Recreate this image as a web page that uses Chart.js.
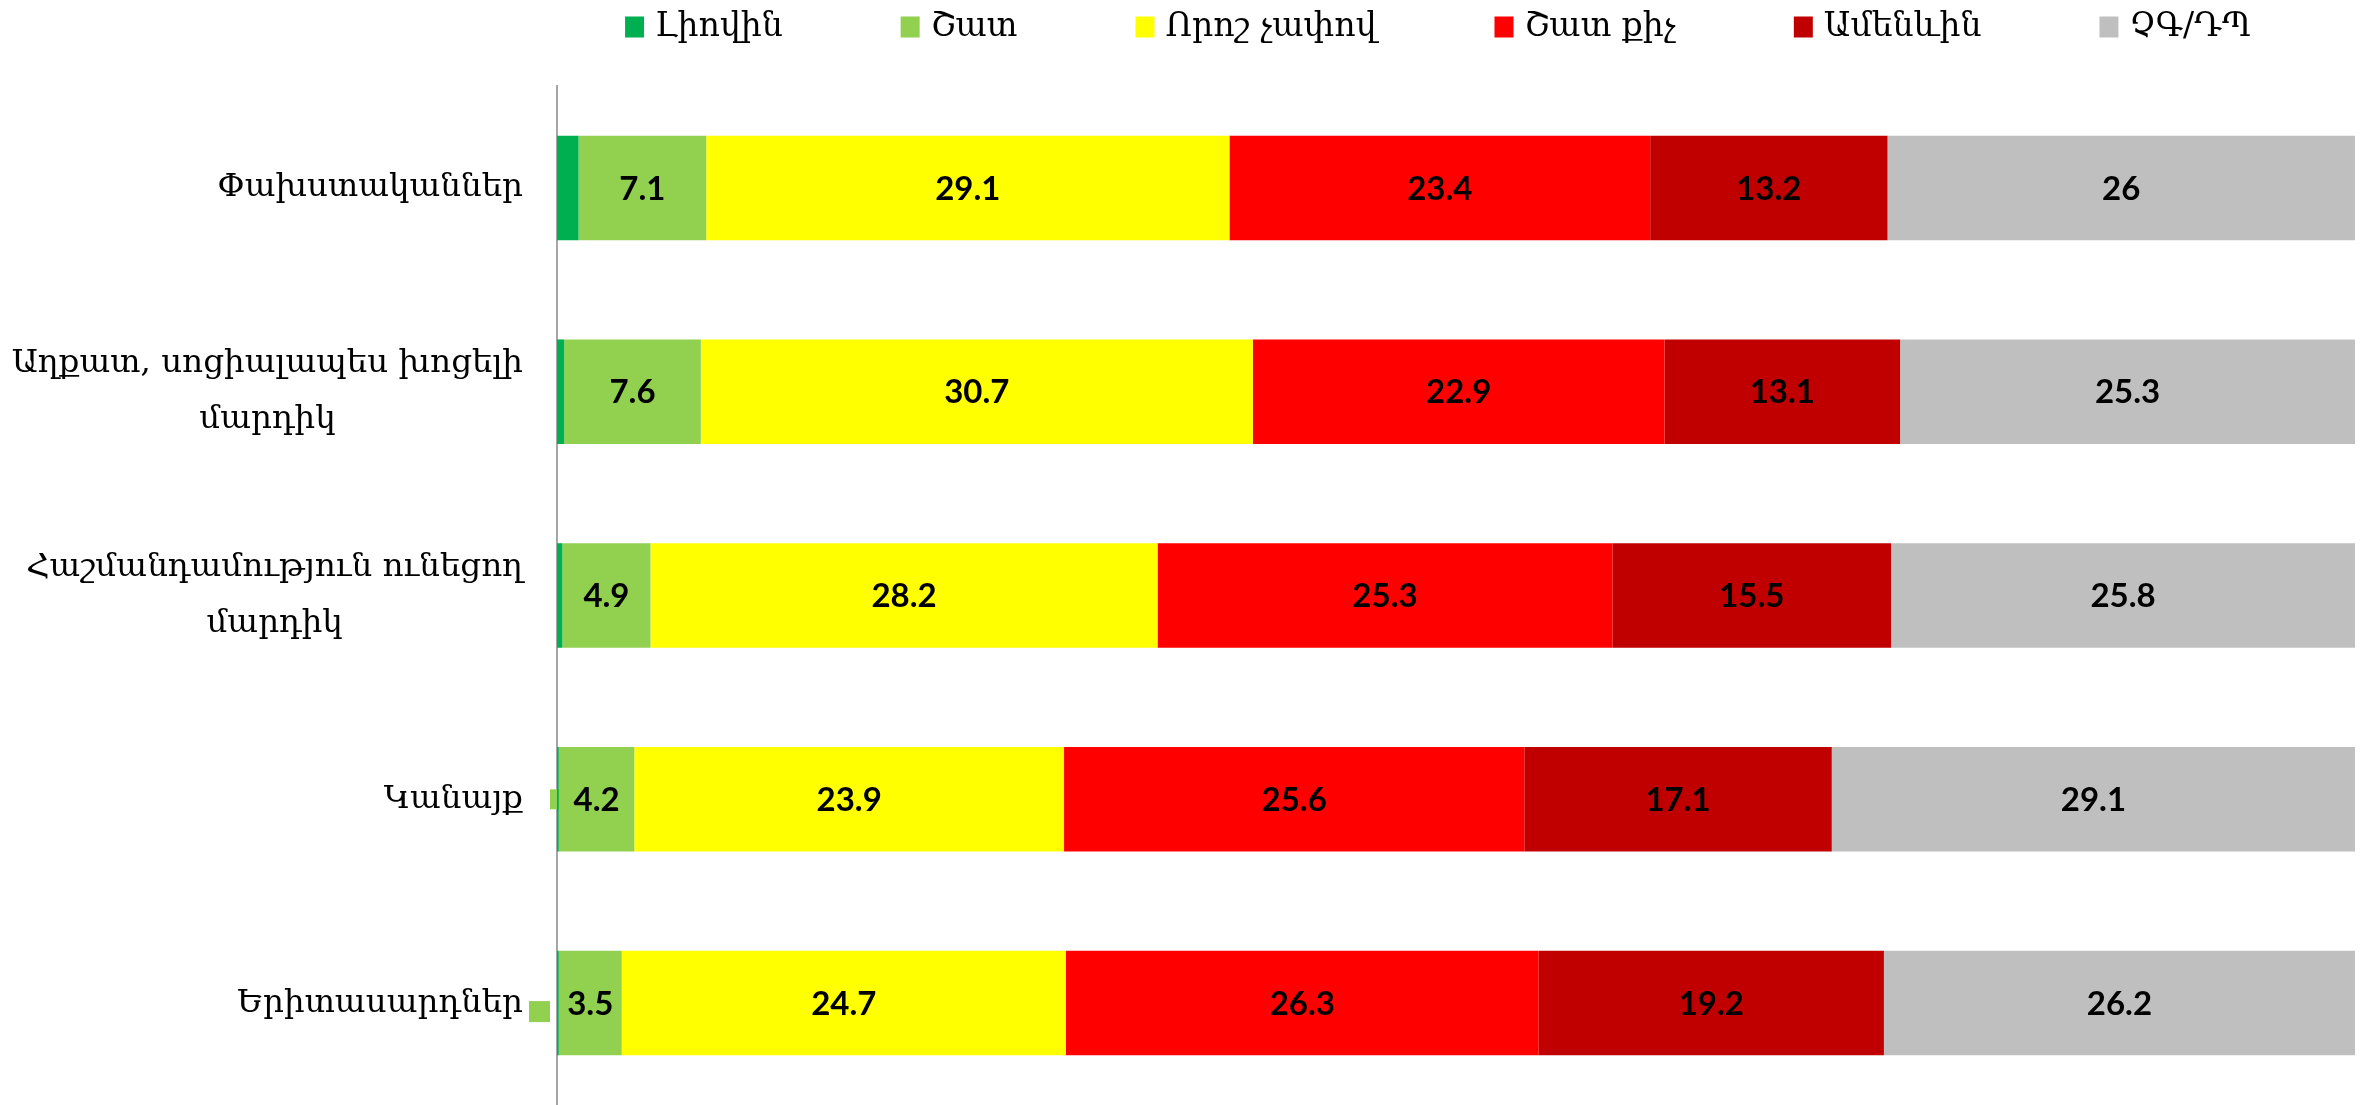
<!DOCTYPE html>
<html>
<head>
<meta charset="utf-8">
<script src="https://cdn.jsdelivr.net/npm/chart.js@4.4.0/dist/chart.umd.min.js"></script>
<style>
html,body{margin:0;padding:0;background:#fff;}
#wrap{width:2363px;height:1105px;position:relative;}
</style>
</head>
<body>
<div id="wrap"><canvas id="c" width="2363" height="1105"></canvas></div>
<script>
const categories = [
  ["Փախստականներ"],
  ["Աղքատ, սոցիալապես խոցելի", "մարդիկ"],
  ["Հաշմանդամություն ունեցող", "մարդիկ"],
  ["Կանայք"],
  ["Երիտասարդներ"]
];
const seriesNames = ["Լիովին", "Շատ", "Որոշ չափով", "Շատ քիչ", "Ամենևին", "ՉԳ/ԴՊ"];
const fullyVals    = [1.2, 0.4, 0.3, 0.1, 0.1];
const muchVals     = [7.1, 7.6, 4.9, 4.2, 3.5];
const somewhatVals = [29.1, 30.7, 28.2, 23.9, 24.7];
const littleVals   = [23.4, 22.9, 25.3, 25.6, 26.3];
const notAtAllVals = [13.2, 13.1, 15.5, 17.1, 19.2];
const dkVals       = [26, 25.3, 25.8, 29.1, 26.2];
const colors = ["#00B050", "#92D050", "#FFFF00", "#FF0000", "#C00000", "#BFBFBF"];
const allVals = [fullyVals, muchVals, somewhatVals, littleVals, notAtAllVals, dkVals];

const LABEL_FONT = '"DejaVu Serif", "DejaVu Sans", serif';

const datasets = seriesNames.map((n, i) => ({
  label: n,
  data: allVals[i],
  backgroundColor: colors[i],
  borderWidth: 0,
  barPercentage: 0.513,
  categoryPercentage: 1.0
}));

// Excel-style stray legend-key markers next to two rows (from the reference)
const keyMarkers = {
  id: 'keyMarkers',
  beforeDatasetsDraw(chart) {
    const ctx = chart.ctx;
    const meta = chart.getDatasetMeta(1);
    const left = chart.chartArea.left;
    ctx.save();
    ctx.fillStyle = colors[1];
    const e3 = meta.data[3];
    ctx.fillRect(left - 7, e3.y - 10, 20, 20);
    const e4 = meta.data[4];
    ctx.fillRect(left - 28, e4.y - 2, 21, 21);
    ctx.restore();
  }
};

const valueLabels = {
  id: 'valueLabels',
  afterDatasetsDraw(chart) {
    const ctx = chart.ctx;
    ctx.save();
    ctx.font = 'bold 33px Lato, "Liberation Sans", sans-serif';
    ctx.fillStyle = '#000';
    ctx.textAlign = 'center';
    ctx.textBaseline = 'middle';
    chart.data.datasets.forEach((ds, di) => {
      if (di === 0) return;
      const meta = chart.getDatasetMeta(di);
      meta.data.forEach((el, i) => {
        const v = ds.data[i];
        const x = (el.x + el.base) / 2;
        ctx.fillText(String(v), x, el.y + 1);
      });
    });
    ctx.restore();
  }
};

const catLabels = {
  id: 'catLabels',
  afterDraw(chart) {
    const ctx = chart.ctx;
    const ys = chart.scales.y;
    const right = chart.chartArea.left - 34;
    const lh = 56;
    ctx.save();
    ctx.font = '32.5px ' + LABEL_FONT;
    ctx.fillStyle = '#000';
    ctx.textAlign = 'center';
    ctx.textBaseline = 'middle';
    categories.forEach((lines, i) => {
      const y = ys.getPixelForTick(i);
      const maxW = Math.max(...lines.map(l => ctx.measureText(l).width));
      const cx = right - maxW / 2;
      lines.forEach((l, j) => {
        ctx.fillText(l, cx, y + (j - (lines.length - 1) / 2) * lh);
      });
    });
    ctx.restore();
  }
};

const topLegend = {
  id: 'topLegend',
  afterDraw(chart) {
    const ctx = chart.ctx;
    const box = 19, boxH = 21, gapText = 11, gapItem = 118, yMid = 27;
    ctx.save();
    ctx.font = '33px ' + LABEL_FONT;
    ctx.textBaseline = 'middle';
    ctx.textAlign = 'left';
    const items = chart.data.datasets.map(ds => ({ text: ds.label, color: ds.backgroundColor, w: ctx.measureText(ds.label).width }));
    const total = items.reduce((s, it) => s + box + gapText + it.w, 0) + gapItem * (items.length - 1);
    let x = (chart.chartArea.left + chart.chartArea.right) / 2 - 18 - total / 2;
    items.forEach(it => {
      ctx.fillStyle = it.color;
      ctx.fillRect(x, yMid - boxH / 2, box, boxH);
      ctx.fillStyle = '#000';
      ctx.fillText(it.text, x + box + gapText, yMid);
      x += box + gapText + it.w + gapItem;
    });
    ctx.restore();
  }
};

new Chart(document.getElementById('c'), {
  type: 'bar',
  data: { labels: categories.map(c => c.join(' ')), datasets },
  plugins: [keyMarkers, valueLabels, catLabels, topLegend],
  options: {
    indexAxis: 'y',
    responsive: false,
    animation: false,
    devicePixelRatio: 1,
    layout: { padding: { left: 0, right: 8, top: 86, bottom: -4 } },
    scales: {
      x: { stacked: true, min: 0, max: 100, display: false },
      y: {
        stacked: true,
        grid: { display: false },
        border: { display: true, color: '#A6A6A6', width: 2 },
        ticks: { display: false },
        afterFit(axis) { axis.width = 557; }
      }
    },
    plugins: {
      legend: { display: false },
      tooltip: { enabled: false }
    }
  }
});
</script>
</body>
</html>
